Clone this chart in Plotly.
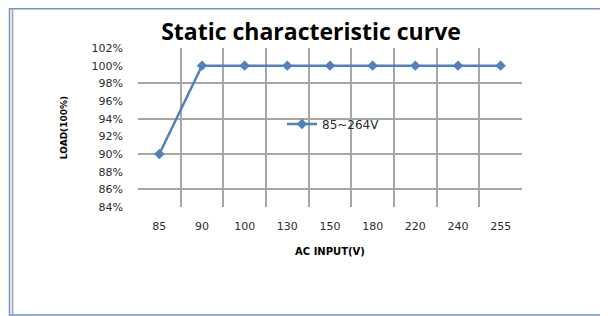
import plotly.graph_objects as go

# Data
ac_input = ["85", "90", "100", "130", "150", "180", "220", "240", "255"]
load_pct = [90, 100, 100, 100, 100, 100, 100, 100, 100]
series_name = "85~264V"
title_text = "Static characteristic curve"
x_title = "AC INPUT(V)"
y_title = "LOAD(100%)"

# page body has an 8px margin, so the figure is 600x308 placed at (8, 8)
W, H = 600, 308
L, R, T, B = 130, 86, 40, 109
PW, PH = W - L - R, H - T - B

FONT = "'DejaVu Sans', sans-serif"
grid_col = "#A6A6A6"
tick_font = dict(family=FONT, size=11, color="#2b2b2b")

fig = go.Figure()
fig.add_trace(go.Scatter(
    x=ac_input, y=load_pct, name=series_name, mode="lines+markers",
    line=dict(color="#4F81BD", width=2.5),
    marker=dict(symbol="diamond", size=8, color="#4F81BD"),
    xaxis="x", yaxis="y",
))
# invisible companion trace so the grid-only overlay axis is drawn
fig.add_trace(go.Scatter(
    x=ac_input, y=load_pct, mode="lines", xaxis="x", yaxis="y2",
    line=dict(width=0, color="rgba(0,0,0,0)"), opacity=0,
    showlegend=False, hoverinfo="skip",
))

fig.update_layout(
    width=W, height=H,
    margin=dict(l=L, r=R, t=T, b=B, pad=0),
    paper_bgcolor="white", plot_bgcolor="rgba(0,0,0,0)",
    showlegend=True,
    title=dict(text="<b>" + title_text + "</b>", x=303 / W, xanchor="center",
               y=1 - 24 / H, yanchor="middle",
               font=dict(family="'Open Sans', sans-serif", size=23, color="#000000")),
    xaxis=dict(type="category", range=[-0.5, 8.5], tickson="boundaries",
               showgrid=True, gridcolor=grid_col, gridwidth=1.5,
               showline=False, zeroline=False, ticks="", ticklabelstandoff=11,
               tickfont=tick_font,
               title=dict(text="<b>" + x_title + "</b>", standoff=15,
                          font=dict(family=FONT, size=10, color="#000000"))),
    yaxis=dict(range=[84, 102], tick0=84, dtick=2, showgrid=False,
               zeroline=False, showline=False, ticks="",
               ticksuffix="%", ticklabelstandoff=14, tickfont=tick_font,
               title=dict(text="<b>" + y_title + "</b>", standoff=22,
                          font=dict(family=FONT, size=9, color="#000000"))),
    yaxis2=dict(range=[84, 102], tick0=86, dtick=4, overlaying="y", anchor="x", side="left",
                showgrid=True, gridcolor=grid_col, gridwidth=1.5,
                showticklabels=False, zeroline=False, showline=False, ticks=""),
    legend=dict(x=(274 - L) / PW, y=(H - B - 116) / PH, xanchor="left", yanchor="middle",
                bgcolor="rgba(0,0,0,0)", font=dict(family=FONT, size=12, color="#2b2b2b"),
                itemwidth=30),
)

# Decorative outer frame
def px_x(p):
    return (p - L) / PW

def px_y(q):
    return (H - B - q) / PH

fig.add_shape(type="rect", xref="paper", yref="paper",
              x0=px_x(1.5), x1=px_x(598.5), y0=px_y(307), y1=px_y(0.75),
              line=dict(color="#6F93CC", width=1.5), layer="below")
fig.add_shape(type="line", xref="paper", yref="paper",
              x0=px_x(4.5), x1=px_x(4.5), y0=px_y(307), y1=px_y(1),
              line=dict(color="#A0A0A0", width=1.5), layer="below")

fig.write_html("out.html")
